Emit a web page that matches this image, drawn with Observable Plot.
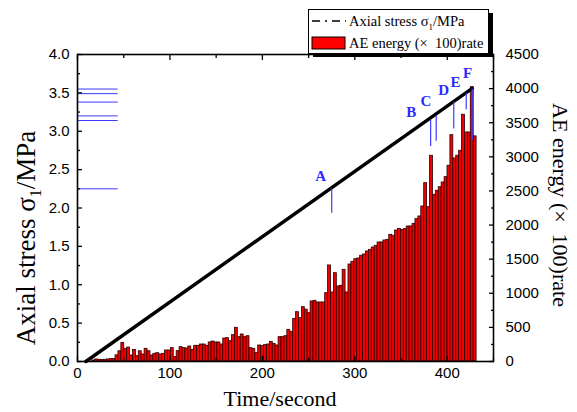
<!DOCTYPE html>
<html><head><meta charset="utf-8">
<script src="https://cdn.jsdelivr.net/npm/d3@7"></script>
<script src="https://cdn.jsdelivr.net/npm/@observablehq/plot@0.6"></script>
<style>body{margin:0;background:#fff} svg{display:block}</style>
</head><body><div id="chart"></div>
<script>
// ---- data ----
const aeStart = 17.5;   // time of first AE bar (s)
const aeStep = 3.15;    // sampling interval of AE bars (s)
const aeEnergy = [
  15, 30, 25, 22, 25, 30, 35, 35,
  90, 150, 270, 186, 205, 88, 170, 78, 150, 103,
  186, 150, 88, 113, 122, 103, 113, 161, 161, 196,
  64, 152, 210, 196, 191, 220, 171, 230, 230, 249,
  249, 230, 279, 293, 279, 279, 249, 337, 342, 298,
  386, 494, 357, 396, 357, 371, 196, 186, 127, 235,
  225, 240, 249, 289, 259, 235, 357, 357, 371, 464, 435,
  625, 723, 635, 797, 760, 709,
  880, 890, 865, 865, 865, 1002, 1408, 1012, 1295, 1100,
  1110, 1344, 1012, 1422, 1461, 1500, 1510, 1550, 1569, 1613,
  1637, 1671, 1696, 1745, 1745, 1774, 1784, 1857, 1843, 1920,
  1945, 1930, 1940, 1979, 1979, 2018, 2087, 2126, 2272, 2614,
  2262, 3016, 2444, 2502, 2555, 2624, 2702, 2869, 3318, 2976,
  3016, 3089, 3617, 3357, 3357, 4021, 3300
];
const stressTime = [9, 427];
const stressValue = [0, 3.56];
const eventLabels = ["A", "B", "C", "D", "E", "F"];
const eventTime = [275, 382, 388, 407, 420.5, 427];
const eventStressTop = [2.25, 3.14, 3.2, 3.38, 3.49, 3.55];
const eventStressBottom = [1.93, 2.80, 2.87, 3.03, 3.28, 2.88];
const labelTime = [263, 361, 377, 396, 409, 422];
const labelStress = [2.42, 3.25, 3.39, 3.53, 3.64, 3.76];
const refLineEnd = 44;
const stressTicks = [0, 0.5, 1, 1.5, 2, 2.5, 3, 3.5, 4];
const stressMinor = [0.25, 0.75, 1.25, 1.75, 2.25, 2.75, 3.25, 3.75];
const aeTicks = [0, 500, 1000, 1500, 2000, 2500, 3000, 3500, 4000, 4500];
const aeMinor = [250, 750, 1250, 1750, 2250, 2750, 3250, 3750, 4250];
const timeTicks = [0, 100, 200, 300, 400];
const timeMinor = [50, 150, 250, 350, 450];
const STRESS_MAX = 4, AE_MAX = 4500, TIME_MAX = 450;

const toStress = v => v * STRESS_MAX / AE_MAX;
const bars = aeEnergy.map((v, i) => ({t: aeStart + aeStep * i, v}));
const stress = stressTime.map((t, i) => ({t, s: stressValue[i]}));
const events = eventLabels.map((l, i) => ({l, t: eventTime[i], top: eventStressTop[i], bot: eventStressBottom[i], lt: labelTime[i], ls: labelStress[i]}));

const BLUE = "#3b3bff";
const blank = () => "";

const chart = Plot.plot({
  width: 577, height: 412,
  marginLeft: 77, marginRight: 84, marginTop: 54, marginBottom: 51,
  style: {fontFamily: "'Liberation Sans', Arial, sans-serif", fontSize: "15px", color: "#000", background: "#fff"},
  x: {domain: [0, TIME_MAX]},
  y: {domain: [0, STRESS_MAX]},
  marks: [
    Plot.rectY(bars, {x1: d => d.t - aeStep / 2, x2: d => d.t + aeStep / 2, y: d => toStress(d.v), fill: "#f00000", stroke: "#2a0000", strokeWidth: 0.8}),
    Plot.ruleY(events, {y: "top", x1: 0, x2: refLineEnd, stroke: BLUE, strokeWidth: 1}),
    Plot.line(stress, {x: "t", y: "s", stroke: "#000", strokeWidth: 3.4}),
    Plot.ruleX(events, {x: "t", y1: "bot", y2: "top", stroke: BLUE, strokeWidth: 1.2}),
    Plot.text(events, {x: "lt", y: "ls", text: "l", fill: "#2a2aff", fontSize: 15, fontWeight: "bold", fontFamily: "'Liberation Serif', 'Times New Roman', serif"}),
    // left axis
    Plot.axisY(stressTicks, {anchor: "left", tickSize: 0, tickPadding: 8, tickFormat: d => d.toFixed(1), label: null}),
    Plot.axisY(stressTicks, {anchor: "left", tickSize: 5, dx: 5, tickFormat: blank, label: null, strokeWidth: 1.3}),
    Plot.axisY(stressMinor, {anchor: "left", tickSize: 3, dx: 3, tickFormat: blank, label: null, strokeWidth: 1.3}),
    // right axis (AE energy)
    Plot.axisY(aeTicks.map(toStress), {anchor: "right", tickSize: 0, tickPadding: 12, tickFormat: d => String(Math.round(d * AE_MAX / STRESS_MAX)), label: null}),
    Plot.axisY(aeTicks.map(toStress), {anchor: "right", tickSize: 5, dx: -5, tickFormat: blank, label: null, strokeWidth: 1.3}),
    Plot.axisY(aeMinor.map(toStress), {anchor: "right", tickSize: 3, dx: -3, tickFormat: blank, label: null, strokeWidth: 1.3}),
    // bottom axis
    Plot.axisX(timeTicks, {anchor: "bottom", tickSize: 0, tickPadding: 6, label: null}),
    Plot.axisX(timeTicks, {anchor: "bottom", tickSize: 5, dy: -5, tickFormat: blank, label: null, strokeWidth: 1.3}),
    Plot.axisX(timeMinor, {anchor: "bottom", tickSize: 3, dy: -3, tickFormat: blank, label: null, strokeWidth: 1.3}),
    Plot.axisX(timeTicks, {anchor: "top", tickSize: 5, dy: 5, tickFormat: blank, label: null, strokeWidth: 1.3}),
    Plot.axisX(timeMinor, {anchor: "top", tickSize: 3, dy: 3, tickFormat: blank, label: null, strokeWidth: 1.3}),
    Plot.frame({stroke: "#000", strokeWidth: 1.6})
  ]
});
document.getElementById("chart").append(chart);

const svg = d3.select(chart);
const serif = "'Liberation Serif', 'Times New Roman', serif";

// axis titles
const lt = svg.append("text").attr("transform", "translate(35,238) rotate(-90)")
  .attr("text-anchor", "middle").attr("font-family", serif).attr("font-size", 27).attr("fill", "#000");
lt.append("tspan").text("Axial stress σ");
lt.append("tspan").attr("font-size", 16).attr("dy", 6).text("1");
lt.append("tspan").attr("dy", -6).text("/MPa");

svg.append("text").attr("transform", "translate(553,205) rotate(90)")
  .attr("text-anchor", "middle").attr("font-family", serif).attr("font-size", 22).attr("fill", "#000")
  .text("AE energy (×  100)rate");

svg.append("text").attr("x", 280).attr("y", 406)
  .attr("text-anchor", "middle").attr("font-family", serif).attr("font-size", 22).attr("fill", "#000")
  .text("Time/second");

// legend
const lg = svg.append("g").attr("font-family", serif).attr("font-size", 14.5).attr("fill", "#000").attr("text-anchor", "start");
lg.append("rect").attr("x", 313).attr("y", 13).attr("width", 180).attr("height", 44).attr("fill", "#000");
lg.append("rect").attr("x", 308.5).attr("y", 9.5).attr("width", 180).attr("height", 44).attr("fill", "#fff").attr("stroke", "#000").attr("stroke-width", 1);
lg.append("line").attr("x1", 312).attr("x2", 346).attr("y1", 21).attr("y2", 21)
  .attr("stroke", "#000").attr("stroke-width", 1.3).attr("stroke-dasharray", "8,5,2,5");
const l1 = lg.append("text").attr("x", 349).attr("y", 26).attr("text-anchor", "start");
l1.append("tspan").text("Axial stress σ");
l1.append("tspan").attr("font-size", 9).attr("dy", 4).text("1");
l1.append("tspan").attr("dy", -4).text("/MPa");
lg.append("rect").attr("x", 312).attr("y", 37).attr("width", 33).attr("height", 12).attr("fill", "#ff0000").attr("stroke", "#000").attr("stroke-width", 1);
lg.append("text").attr("x", 349).attr("y", 48).attr("text-anchor", "start").text("AE energy (×  100)rate");
</script>
</body></html>
